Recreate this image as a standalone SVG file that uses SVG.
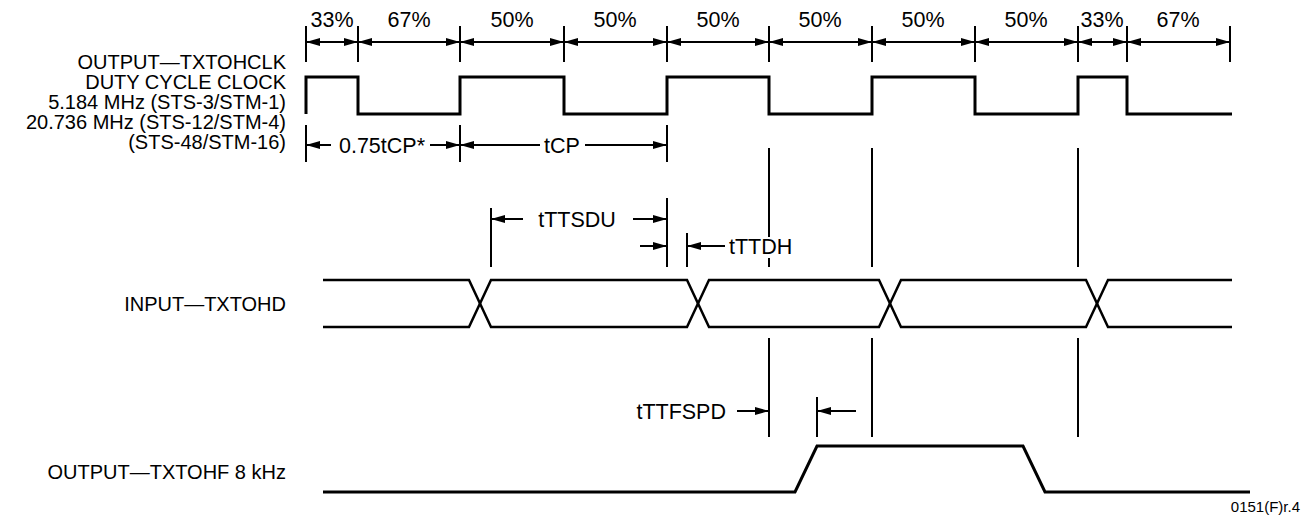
<svg xmlns="http://www.w3.org/2000/svg" width="1304" height="515" viewBox="0 0 1304 515">
<style>
text{font-family:"Liberation Sans",Arial,sans-serif;fill:#000}
.lbl{font-size:20px;text-anchor:end}
.pct{font-size:21.5px;text-anchor:middle}
.tm{font-size:21.5px}
.w{fill:none;stroke:#000;stroke-width:3;stroke-linejoin:miter}
.d{fill:none;stroke:#000;stroke-width:2.5}
.t{stroke:#000;stroke-width:2}
.a{stroke:#000;stroke-width:2;marker-end:url(#ah)}
.aa{stroke:#000;stroke-width:2;marker-start:url(#ahs);marker-end:url(#ah)}
</style>
<defs>
<marker id="ah" markerWidth="14" markerHeight="10" refX="13" refY="5" orient="auto" markerUnits="userSpaceOnUse"><path d="M0,1 L14,5 L0,9 Z" fill="#000"/></marker>
<marker id="ahs" markerWidth="14" markerHeight="10" refX="1" refY="5" orient="auto" markerUnits="userSpaceOnUse"><path d="M14,1 L0,5 L14,9 Z" fill="#000"/></marker>
</defs>
<g id="labels">
<text class="lbl" x="286" y="69">OUTPUT—TXTOHCLK</text>
<text class="lbl" x="286" y="89">DUTY CYCLE CLOCK</text>
<text class="lbl" x="286" y="109">5.184 MHz (STS-3/STM-1)</text>
<text class="lbl" x="286" y="129">20.736 MHz (STS-12/STM-4)</text>
<text class="lbl" x="286" y="149">(STS-48/STM-16)</text>
<text class="lbl" x="286" y="311">INPUT—TXTOHD</text>
<text class="lbl" x="286" y="479">OUTPUT—TXTOHF 8 kHz</text>
<text x="1300" y="512" style="font-size:15px;text-anchor:end">0151(F)r.4</text>
</g>
<g id="clock">
<path class="w" d="M306,114 V77 H358 V114 H460 V77 H564 V114 H667 V77 H769 V114 H872 V77 H975 V114 H1078 V77 H1127 V114 H1232"/>
</g>
<g id="data">
<path class="d" d="M323,280 H469 L491,327 H687 L709,280 H879 L901,327 H1086 L1108,280 H1232"/>
<path class="d" d="M323,327 H469 L491,280 H687 L709,327 H879 L901,280 H1086 L1108,327 H1232"/>
</g>
<g id="frame">
<path class="w" d="M323,492 H795 L817,446 H1023 L1045,492 H1250"/>
</g>
<g id="connectors">
<g id="duty-ticks">
<path class="t" d="M306,26V62 M358,26V62 M460,26V62 M564,26V62 M667,26V62 M769,26V62 M872,26V62 M975,26V62 M1078,26V62 M1127,26V62 M1230,26V62"/>
<line class="aa" x1="307" y1="42" x2="357" y2="42"/>
<line class="aa" x1="359" y1="42" x2="459" y2="42"/>
<line class="aa" x1="461" y1="42" x2="563" y2="42"/>
<line class="aa" x1="565" y1="42" x2="666" y2="42"/>
<line class="aa" x1="668" y1="42" x2="768" y2="42"/>
<line class="aa" x1="770" y1="42" x2="871" y2="42"/>
<line class="aa" x1="873" y1="42" x2="974" y2="42"/>
<line class="aa" x1="976" y1="42" x2="1077" y2="42"/>
<line class="aa" x1="1079" y1="42" x2="1126" y2="42"/>
<line class="aa" x1="1128" y1="42" x2="1229" y2="42"/>
<text class="pct" x="332" y="27">33%</text>
<text class="pct" x="409" y="27">67%</text>
<text class="pct" x="512" y="27">50%</text>
<text class="pct" x="615" y="27">50%</text>
<text class="pct" x="718" y="27">50%</text>
<text class="pct" x="820" y="27">50%</text>
<text class="pct" x="923" y="27">50%</text>
<text class="pct" x="1026" y="27">50%</text>
<text class="pct" x="1102" y="27">33%</text>
<text class="pct" x="1178" y="27">67%</text>
</g>
<g id="period">
<path class="t" d="M306,125V162 M460,125V162 M667,125V162"/>
<line class="a" x1="331" y1="145" x2="307" y2="145"/>
<line class="a" x1="430" y1="145" x2="459" y2="145"/>
<line class="a" x1="540" y1="145" x2="461" y2="145"/>
<line class="a" x1="585" y1="145" x2="666" y2="145"/>
<text class="tm" x="382" y="153" text-anchor="middle">0.75tCP*</text>
<text class="tm" x="562" y="153" text-anchor="middle">tCP</text>
</g>
<g id="ref-lines">
<path class="t" d="M769,148V237 M769,258V267 M872,148V267 M1078,148V267 M769,338V437 M872,338V437 M1078,338V437"/>
</g>
<g id="setup-hold">
<path class="t" d="M491,208V267 M667,198V267 M687,233V267"/>
<line class="a" x1="523" y1="219" x2="492" y2="219"/>
<line class="a" x1="633" y1="219" x2="666" y2="219"/>
<text class="tm" x="577" y="227" text-anchor="middle">tTTSDU</text>
<line class="a" x1="640" y1="246" x2="666" y2="246"/>
<line class="a" x1="725" y1="246" x2="688" y2="246"/>
<text class="tm" x="729" y="254">tTTDH</text>
</g>
<g id="prop-delay">
<path class="t" d="M817,397V437"/>
<line class="a" x1="737" y1="411" x2="768" y2="411"/>
<line class="a" x1="856" y1="411" x2="818" y2="411"/>
<text class="tm" x="726" y="419" text-anchor="end">tTTFSPD</text>
</g>
</g>
</svg>
